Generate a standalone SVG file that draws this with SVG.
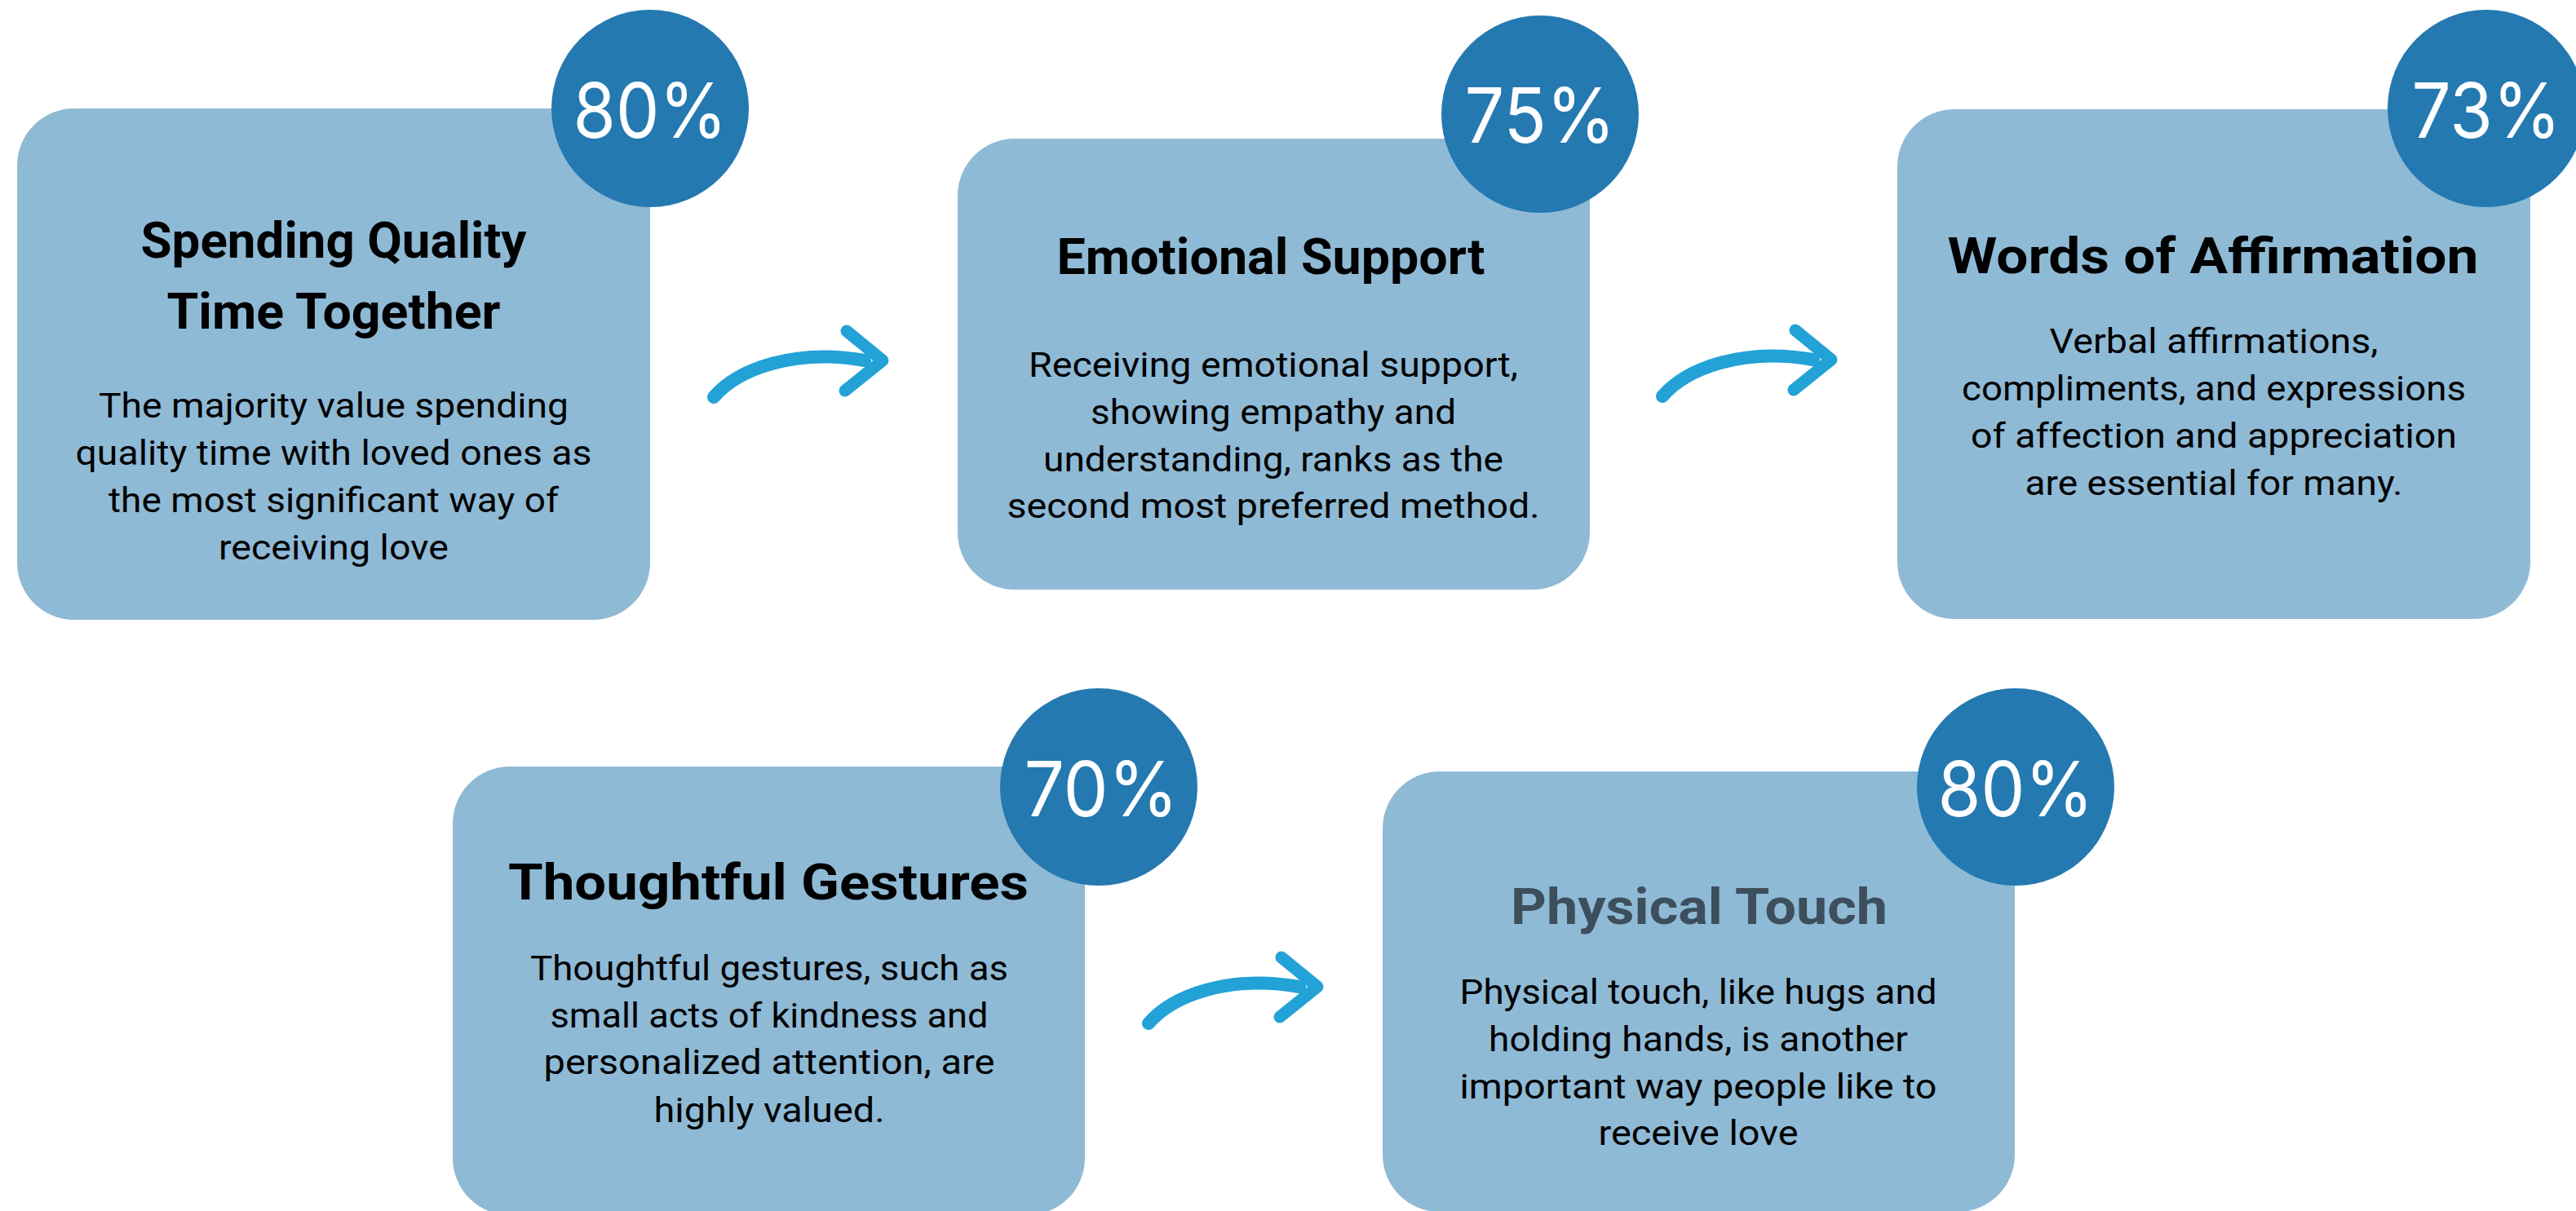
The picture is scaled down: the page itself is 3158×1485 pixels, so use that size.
<svg xmlns="http://www.w3.org/2000/svg" xmlns:xlink="http://www.w3.org/1999/xlink" width="3158" height="1485" viewBox="0 0 3158 1485">
<style>
.box{fill:#8fbad6}
.badge{fill:#2479b0}
.pct{font-family:"Inter","Liberation Sans",sans-serif;font-size:94px;font-weight:400;fill:#ffffff;text-anchor:middle}
.title{font-family:Roboto,"Liberation Sans",sans-serif;font-size:62px;font-weight:700;fill:#000000;text-anchor:middle}
.body{font-family:Roboto,"Liberation Sans",sans-serif;font-size:43px;font-weight:400;fill:#000000;text-anchor:middle}
.arrow{fill:none;stroke:#22a2d6;stroke-linecap:round;stroke-linejoin:round}
</style>
<defs>
<g id="arrowShape">
<path class="arrow" d="M875,487 C905,452 975,427 1060,442" stroke-width="16"/>
<path class="arrow" d="M1038,406 L1082,442 L1036,479" stroke-width="15"/>
</g>
</defs>
<rect width="3158" height="1485" fill="#ffffff"/>
<g id="connectors">
<use xlink:href="#arrowShape" href="#arrowShape"/>
<use xlink:href="#arrowShape" href="#arrowShape" transform="translate(1163,-1)"/>
<use xlink:href="#arrowShape" href="#arrowShape" transform="translate(533,768)"/>
</g>
<g id="node-quality-time">
<rect class="box" x="21" y="133" width="776" height="627" rx="70"/>
<circle class="badge" cx="797" cy="133" r="121"/>
<text class="pct" x="797" y="169" textLength="189" lengthAdjust="spacingAndGlyphs">80%</text>
<text class="title" x="409" y="316" textLength="473" lengthAdjust="spacingAndGlyphs">Spending Quality</text>
<text class="title" x="409" y="403" textLength="409" lengthAdjust="spacingAndGlyphs">Time Together</text>
<text class="body" x="409" y="512" textLength="576" lengthAdjust="spacingAndGlyphs">The majority value spending</text>
<text class="body" x="409" y="570" textLength="633" lengthAdjust="spacingAndGlyphs">quality time with loved ones as</text>
<text class="body" x="409" y="628" textLength="552" lengthAdjust="spacingAndGlyphs">the most significant way of</text>
<text class="body" x="409" y="686" textLength="282" lengthAdjust="spacingAndGlyphs">receiving love</text>
</g>
<g id="node-emotional-support">
<rect class="box" x="1174" y="170" width="775" height="553" rx="70"/>
<circle class="badge" cx="1888" cy="140" r="121"/>
<text class="pct" x="1888" y="175" textLength="185" lengthAdjust="spacingAndGlyphs">75%</text>
<text class="title" x="1558" y="336" textLength="525" lengthAdjust="spacingAndGlyphs">Emotional Support</text>
<text class="body" x="1561" y="462" textLength="600" lengthAdjust="spacingAndGlyphs">Receiving emotional support,</text>
<text class="body" x="1561" y="520" textLength="448" lengthAdjust="spacingAndGlyphs">showing empathy and</text>
<text class="body" x="1561" y="578" textLength="564" lengthAdjust="spacingAndGlyphs">understanding, ranks as the</text>
<text class="body" x="1561" y="635" textLength="653" lengthAdjust="spacingAndGlyphs">second most preferred method.</text>
</g>
<g id="node-words-of-affirmation">
<rect class="box" x="2326" y="134" width="776" height="625" rx="70"/>
<circle class="badge" cx="3048" cy="133" r="121"/>
<text class="pct" x="3048" y="169" textLength="183" lengthAdjust="spacingAndGlyphs">73%</text>
<text class="title" x="2713" y="335" textLength="651" lengthAdjust="spacingAndGlyphs">Words of Affirmation</text>
<text class="body" x="2714" y="433" textLength="403" lengthAdjust="spacingAndGlyphs">Verbal affirmations,</text>
<text class="body" x="2714" y="491" textLength="618" lengthAdjust="spacingAndGlyphs">compliments, and expressions</text>
<text class="body" x="2714" y="549" textLength="596" lengthAdjust="spacingAndGlyphs">of affection and appreciation</text>
<text class="body" x="2714" y="607" textLength="463" lengthAdjust="spacingAndGlyphs">are essential for many.</text>
</g>
<g id="node-thoughtful-gestures">
<rect class="box" x="555" y="940" width="775" height="550" rx="70"/>
<circle class="badge" cx="1347" cy="965" r="121"/>
<text class="pct" x="1350" y="1001" textLength="189" lengthAdjust="spacingAndGlyphs">70%</text>
<text class="title" x="942" y="1103" textLength="638" lengthAdjust="spacingAndGlyphs">Thoughtful Gestures</text>
<text class="body" x="943" y="1202" textLength="586" lengthAdjust="spacingAndGlyphs">Thoughtful gestures, such as</text>
<text class="body" x="943" y="1260" textLength="537" lengthAdjust="spacingAndGlyphs">small acts of kindness and</text>
<text class="body" x="943" y="1317" textLength="553" lengthAdjust="spacingAndGlyphs">personalized attention, are</text>
<text class="body" x="943" y="1376" textLength="283" lengthAdjust="spacingAndGlyphs">highly valued.</text>
</g>
<g id="node-physical-touch">
<rect class="box" x="1695" y="946" width="775" height="540" rx="70"/>
<circle class="badge" cx="2471" cy="965" r="121"/>
<text class="pct" x="2471" y="1001" textLength="191" lengthAdjust="spacingAndGlyphs">80%</text>
<text class="title" x="2083" y="1133" textLength="462" lengthAdjust="spacingAndGlyphs" style="fill:#3d4f5c">Physical Touch</text>
<text class="body" x="2082" y="1231" textLength="585" lengthAdjust="spacingAndGlyphs">Physical touch, like hugs and</text>
<text class="body" x="2082" y="1289" textLength="514" lengthAdjust="spacingAndGlyphs">holding hands, is another</text>
<text class="body" x="2082" y="1347" textLength="585" lengthAdjust="spacingAndGlyphs">important way people like to</text>
<text class="body" x="2082" y="1404" textLength="245" lengthAdjust="spacingAndGlyphs">receive love</text>
</g>
</svg>
